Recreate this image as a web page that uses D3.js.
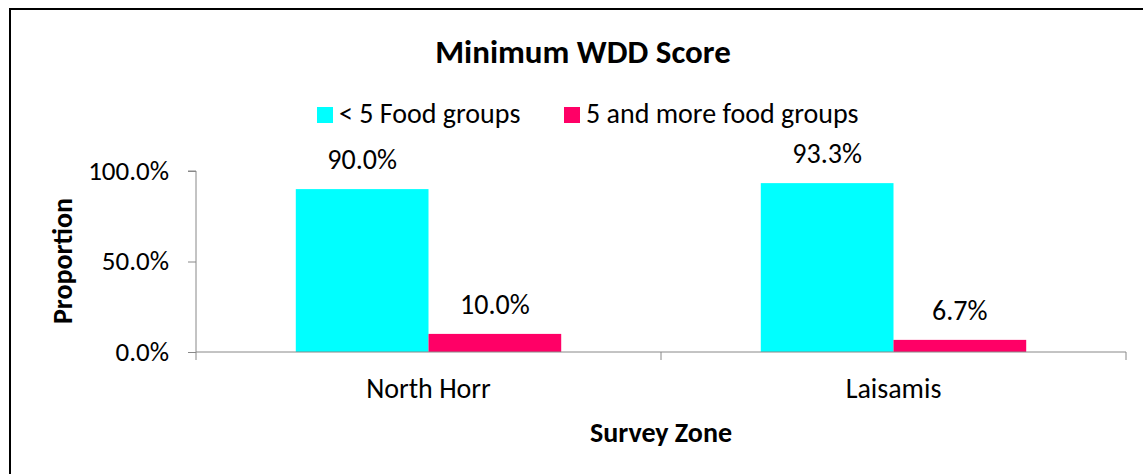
<!DOCTYPE html>
<html lang="en">
  <head>
    <meta charset="UTF-8" />
    <title>Minimum WDD Score</title>
    <style>
      body { margin: 0; background: #fff; }
      text { font-family: Carlito, Lato, "Open Sans", sans-serif; fill: #000; }
    </style>
  </head>
  <body>
    <svg width="1143" height="474"></svg>
    <script src="https://d3js.org/d3.v7.min.js"></script>
    <script>
      // data
      var zones = ["North Horr", "Laisamis"];
      var seriesNames = ["< 5 Food groups", "5 and more food groups"];
      var lessThan5 = [0.900, 0.933];
      var fiveOrMore = [0.100, 0.067];
      var yTicks = [0, 0.5, 1];
      var colors = ["#00ffff", "#ff0066"];

      var svg = d3.select("svg");
      var fontFam = "Carlito, Lato, 'Open Sans', sans-serif";

      // chart frame
      svg.append("rect")
        .attr("x", 10).attr("y", 9)
        .attr("width", 1150).attr("height", 480)
        .attr("fill", "none").attr("stroke", "#000").attr("stroke-width", 2);

      var plotL = 196, plotR = 1126, plotT = 171, plotB = 352;

      var x0 = d3.scaleBand().domain(zones).range([plotL, plotR]).paddingInner(0).paddingOuter(0);
      var x1 = d3.scaleBand().domain([0, 1]).range([0, x0.bandwidth()]).paddingOuter(0.752).paddingInner(0);
      var y = d3.scaleLinear().domain([0, 1]).range([plotB, plotT]);

      var rows = zones.map(function (z, i) {
        return { zone: z, values: [lessThan5[i], fiveOrMore[i]] };
      });

      // bars
      var g = svg.append("g");
      var grp = g.selectAll("g").data(rows).enter().append("g")
        .attr("transform", function (d) { return "translate(" + x0(d.zone) + ",0)"; });
      grp.selectAll("rect").data(function (d) { return d.values; }).enter().append("rect")
        .attr("x", function (d, i) { return x1(i); })
        .attr("width", x1.bandwidth())
        .attr("y", function (d) { return y(d); })
        .attr("height", function (d) { return y(0) - y(d); })
        .attr("fill", function (d, i) { return colors[i]; });
      grp.selectAll("text").data(function (d) { return d.values; }).enter().append("text")
        .attr("x", function (d, i) { return x1(i) + x1.bandwidth() / 2; })
        .attr("y", function (d) { return y(d) - 20; })
        .attr("text-anchor", "middle")
        .style("font-size", "28px")
        .text(function (d) { return d3.format(".1%")(d); });

      // y axis
      var yAxis = svg.append("g")
        .attr("transform", "translate(" + plotL + ",0)")
        .call(d3.axisLeft(y).tickValues(yTicks).tickFormat(d3.format(".1%")).tickSize(8).tickPadding(19));
      yAxis.select(".domain").attr("stroke", "#888").attr("d", "M-8," + plotT + "H0V" + plotB);
      yAxis.selectAll(".tick line").attr("stroke", "#888");
      yAxis.selectAll(".tick text").style("font-size", "27px").attr("dy", "0.3em")
        .style("font-family", fontFam);

      // x axis
      var xAxis = svg.append("g")
        .attr("transform", "translate(0," + plotB + ")")
        .call(d3.axisBottom(x0).tickSize(0).tickPadding(26));
      xAxis.select(".domain").attr("stroke", "#888").attr("d", "M" + plotL + ",0H" + plotR);
      xAxis.selectAll(".tick text").style("font-size", "28px")
        .style("font-family", fontFam);
      xAxis.selectAll(".sep").data(d3.range(zones.length + 1)).enter().append("line")
        .attr("class", "sep")
        .attr("x1", function (i) { return plotL + i * x0.step(); })
        .attr("x2", function (i) { return plotL + i * x0.step(); })
        .attr("y1", 0).attr("y2", 8)
        .attr("stroke", "#888");

      // titles
      svg.append("text").attr("x", 583).attr("y", 63).attr("text-anchor", "middle")
        .style("font-size", "33px").style("font-weight", "bold").text("Minimum WDD Score");
      svg.append("text").attr("x", 661).attr("y", 442).attr("text-anchor", "middle")
        .style("font-size", "28px").style("font-weight", "bold").text("Survey Zone");
      svg.append("text").attr("transform", "translate(72,261) rotate(-90)").attr("text-anchor", "middle")
        .style("font-size", "28px").style("font-weight", "bold").text("Proportion");

      // legend
      var legendX = [317, 564];
      var leg = svg.append("g").selectAll("g").data(seriesNames).enter().append("g")
        .attr("transform", function (d, i) { return "translate(" + legendX[i] + ",107)"; });
      leg.append("rect").attr("width", 16).attr("height", 16)
        .attr("fill", function (d, i) { return colors[i]; });
      leg.append("text").attr("x", 22).attr("y", 16)
        .style("font-size", "28px").text(function (d) { return d; });
    </script>
  </body>
</html>
